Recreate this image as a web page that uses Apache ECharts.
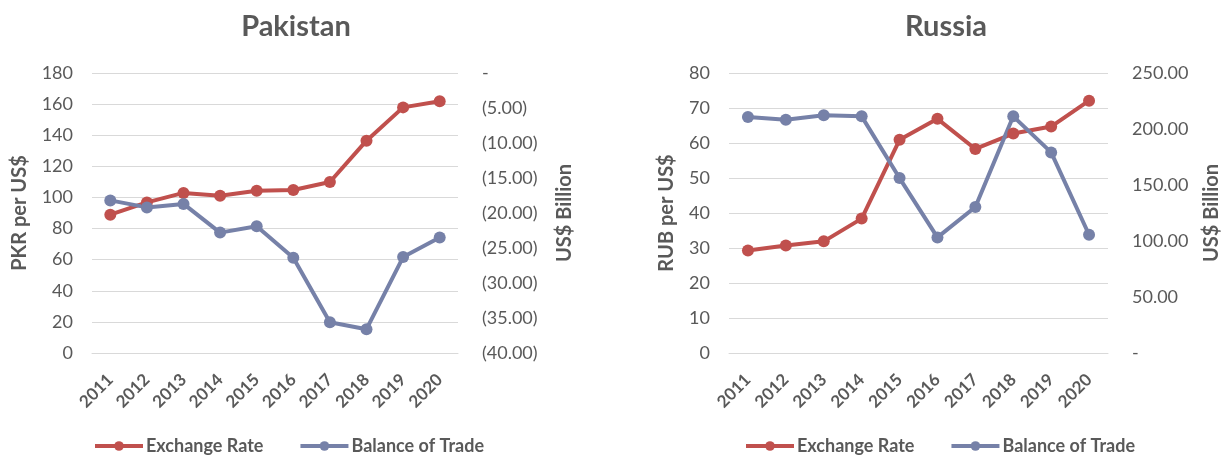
<!DOCTYPE html>
<html>
<head>
<meta charset="utf-8">
<script src="https://cdn.jsdelivr.net/npm/echarts@6/dist/echarts.min.js"></script>
<style>
html,body{margin:0;padding:0;background:#fff;}
#c{width:1225px;height:456px;}
</style>
</head>
<body>
<div id="c"></div>
<script>
const years = ['2011','2012','2013','2014','2015','2016','2017','2018','2019','2020'];
const pakExchange = [88.9, 96.8, 102.9, 101.1, 104.3, 104.8, 109.9, 136.5, 157.9, 161.8];
const pakBalance = [-18.2, -19.2, -18.7, -22.8, -21.9, -26.4, -35.6, -36.6, -26.3, -23.5];
const rusExchange = [29.3, 30.7, 31.9, 38.4, 60.9, 66.9, 58.3, 62.7, 64.7, 72.1];
const rusBalance = [210.7, 208.3, 212.2, 211.3, 156.2, 103.2, 130.4, 211.3, 179.1, 105.6];

const FONT = 'Lato';
const TXT = '#595959';
const RED = '#C0504D';
const BLUE = '#7681A8';
const GRIDC = '#D9D9D9';

const chart = echarts.init(document.getElementById('c'));

function xAx(gi) {
  return {
    type: 'category', gridIndex: gi, data: years, boundaryGap: true,
    axisLine: {show: true, lineStyle: {color: GRIDC, width: 1}},
    axisTick: {show: false},
    axisLabel: {rotate: 45, color: TXT, fontFamily: FONT, fontWeight: 'bold', fontSize: 17, margin: 24, interval: 0}
  };
}
function yLeft(gi, min, max, interval, name, gap) {
  return {
    type: 'value', gridIndex: gi, min, max, interval, position: 'left',
    name, nameLocation: 'middle', nameGap: gap,
    nameTextStyle: {color: TXT, fontFamily: FONT, fontWeight: 'bold', fontSize: 20},
    axisLine: {show: false}, axisTick: {show: false},
    axisLabel: {color: TXT, fontFamily: FONT, fontSize: 18, margin: 19},
    splitLine: {show: true, lineStyle: {color: GRIDC, width: 1}}
  };
}
function yRight(gi, min, max, interval, name, gap, fmt) {
  return {
    type: 'value', gridIndex: gi, min, max, interval, position: 'right',
    name, nameLocation: 'middle', nameGap: gap,
    nameTextStyle: {color: TXT, fontFamily: FONT, fontWeight: 'bold', fontSize: 20},
    axisLine: {show: false}, axisTick: {show: false},
    axisLabel: {color: TXT, fontFamily: FONT, fontSize: 18, margin: 24, formatter: fmt},
    splitLine: {show: false}
  };
}
function line(name, data, color, xi, yi) {
  return {
    name, type: 'line', data, xAxisIndex: xi, yAxisIndex: yi,
    symbol: 'circle', symbolSize: 12,
    lineStyle: {color, width: 4},
    itemStyle: {color},
    animation: false
  };
}
const pakFmt = v => v === 0 ? '-' : '(' + Math.abs(v).toFixed(2) + ')';
const rusFmt = v => v === 0 ? '-' : v.toFixed(2);

const legendText = {color: TXT, fontFamily: FONT, fontWeight: 'bold', fontSize: 18, padding: [0, 0, 0, -2]};

chart.setOption({
  backgroundColor: '#fff',
  animation: false,
  title: [
    {text: 'Pakistan', left: 291, top: 7, textAlign: 'center',
     textStyle: {color: TXT, fontFamily: FONT, fontWeight: 'bold', fontSize: 29}},
    {text: 'Russia', left: 941, top: 7, textAlign: 'center',
     textStyle: {color: TXT, fontFamily: FONT, fontWeight: 'bold', fontSize: 29}}
  ],
  legend: [
    {left: 93, top: 437, padding: 0, itemWidth: 48, itemHeight: 12, itemGap: 35, textStyle: legendText,
     lineStyle: {width: 4}, data: ['Exchange Rate', 'Balance of Trade']},
    {left: 744, top: 437, padding: 0, itemWidth: 48, itemHeight: 12, itemGap: 35, textStyle: legendText,
     lineStyle: {width: 4}, data: ['Exchange Rate', 'Balance of Trade']}
  ],
  grid: [
    {left: 92, top: 73, width: 366, height: 280},
    {left: 729, top: 73, width: 379, height: 280}
  ],
  xAxis: [xAx(0), xAx(1)],
  yAxis: [
    yLeft(0, 0, 180, 20, 'PKR per US$', 62),
    yRight(0, -40, 0, 5, 'US$ Billion', 97, pakFmt),
    yLeft(1, 0, 80, 10, 'RUB per US$', 52),
    yRight(1, 0, 250, 50, 'US$ Billion', 94, rusFmt)
  ],
  series: [
    line('Exchange Rate', pakExchange, RED, 0, 0),
    line('Balance of Trade', pakBalance, BLUE, 0, 1),
    line('Exchange Rate', rusExchange, RED, 1, 2),
    line('Balance of Trade', rusBalance, BLUE, 1, 3)
  ]
});
</script>
</body>
</html>
